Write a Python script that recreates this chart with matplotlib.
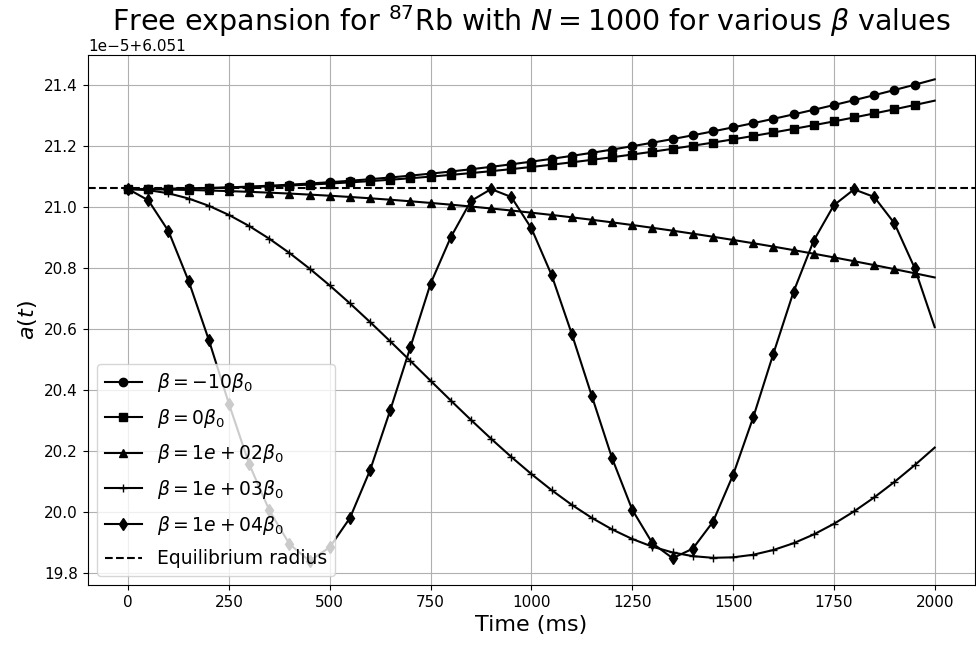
import matplotlib
matplotlib.use("Agg")
import matplotlib.pyplot as plt
import numpy as np

# time samples (ms)
t_ms = list(range(0, 2001, 50))

# radius a(t), in units of 1e-5 above 6.051
a_m10 = [21.0600, 21.0602, 21.0609, 21.0620, 21.0636, 21.0656, 21.0681, 21.0710,
         21.0744, 21.0782, 21.0825, 21.0872, 21.0924, 21.0980, 21.1041, 21.1106,
         21.1176, 21.1250, 21.1329, 21.1412, 21.1500, 21.1592, 21.1689, 21.1790,
         21.1896, 21.2006, 21.2121, 21.2240, 21.2364, 21.2492, 21.2625, 21.2762,
         21.2904, 21.3050, 21.3201, 21.3356, 21.3516, 21.3680, 21.3849, 21.4022,
         21.4200]
a_0 = [21.0600, 21.0602, 21.0607, 21.0616, 21.0629, 21.0645, 21.0665, 21.0689,
       21.0716, 21.0747, 21.0781, 21.0819, 21.0861, 21.0906, 21.0955, 21.1008,
       21.1064, 21.1124, 21.1187, 21.1254, 21.1325, 21.1399, 21.1477, 21.1559,
       21.1644, 21.1733, 21.1825, 21.1921, 21.2021, 21.2124, 21.2231, 21.2342,
       21.2456, 21.2574, 21.2695, 21.2820, 21.2949, 21.3081, 21.3217, 21.3357,
       21.3500]
a_1e2 = [21.0600, 21.0593, 21.0583, 21.0570, 21.0553, 21.0533, 21.0509, 21.0482,
         21.0452, 21.0418, 21.0381, 21.0341, 21.0297, 21.0250, 21.0199, 21.0145,
         21.0088, 21.0027, 20.9963, 20.9896, 20.9825, 20.9751, 20.9673, 20.9592,
         20.9508, 20.9420, 20.9329, 20.9235, 20.9137, 20.9036, 20.8931, 20.8823,
         20.8712, 20.8597, 20.8479, 20.8358, 20.8233, 20.8105, 20.7973, 20.7838,
         20.7700]
a_1e3 = [21.0600, 21.0565, 21.0461, 21.0289, 21.0051, 20.9749, 20.9388, 20.8970,
         20.8502, 20.7989, 20.7436, 20.6849, 20.6236, 20.5603, 20.4959, 20.4310,
         20.3663, 20.3027, 20.2408, 20.1813, 20.1249, 20.0723, 20.0241, 19.9810,
         19.9434, 19.9120, 19.8867, 19.8678, 19.8557, 19.8502, 19.8518, 19.8603,
         19.8759, 19.8981, 19.9268, 19.9617, 20.0025, 20.0484, 20.0990, 20.1537,
         20.2118]
a_1e4 = [21.060, 21.023, 20.922, 20.758, 20.565, 20.355, 20.158, 20.006,
         19.895, 19.840, 19.885, 19.981, 20.138, 20.335, 20.542, 20.750,
         20.902, 21.021, 21.060, 21.034, 20.931, 20.778, 20.585, 20.380,
         20.177, 20.008, 19.898, 19.849, 19.880, 19.968, 20.122, 20.311,
         20.520, 20.723, 20.891, 21.007, 21.059, 21.034, 20.948, 20.802,
         20.607]
a_eq = 21.062

series = [
    (a_m10, "o", r"$\beta = -10\beta_0$"),
    (a_0, "s", r"$\beta = 0\beta_0$"),
    (a_1e2, "^", r"$\beta = 1e+02\beta_0$"),
    (a_1e3, "+", r"$\beta = 1e+03\beta_0$"),
    (a_1e4, "d", r"$\beta = 1e+04\beta_0$"),
]


def to_radius(v):
    return 6.051 + np.array(v) * 1e-5


def main():
    plt.rcParams["xtick.labelsize"] = 11
    plt.rcParams["ytick.labelsize"] = 11
    fig, ax = plt.subplots(figsize=(9.76, 6.5), dpi=100)
    fig.subplots_adjust(left=0.09, right=0.999, top=0.915, bottom=0.1)

    t = np.array(t_ms)
    for vals, m, lab in series:
        ax.plot(t, to_radius(vals), "-", color="black", marker=m,
                markevery=list(range(len(t) - 1)), label=lab, linewidth=1.5)
    ax.axhline(to_radius(a_eq), color="black", linestyle="--",
               linewidth=1.5, label="Equilibrium radius")

    ax.set_xlabel("Time (ms)", fontsize=16)
    ax.set_ylabel(r"$a(t)$", fontsize=16)
    ax.set_title(r"Free expansion for $^{87}$Rb with $N = 1000$ for various $\beta$ values",
                 fontsize=20.5)
    ax.yaxis.get_offset_text().set_fontsize(11)
    ax.grid(True)
    ax.legend(loc="lower left", fontsize=13.5, labelspacing=0.67)

    fig.savefig("out.png")


if __name__ == "__main__":
    main()
